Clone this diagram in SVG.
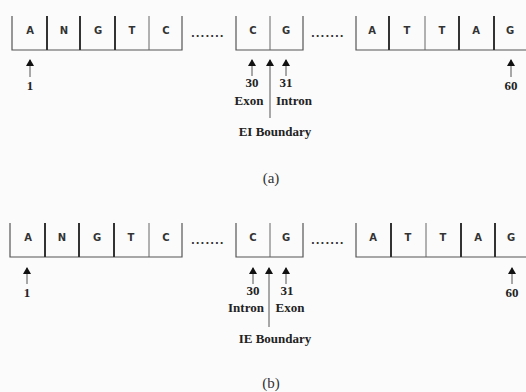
<svg xmlns="http://www.w3.org/2000/svg" width="526" height="392" viewBox="0 0 526 392">
<defs>
<style>
.bx{fill:none;stroke:#555;stroke-width:1.2}
.tk{stroke:#333;stroke-width:2}
.tn{stroke:#666;stroke-width:1}
.nt{font-family:"DejaVu Sans",Verdana,sans-serif;font-weight:bold;font-size:10px;fill:#333;text-anchor:middle}
.dt{font-family:"DejaVu Sans",Verdana,sans-serif;font-weight:bold;font-size:10px;fill:#333;letter-spacing:1px}
.lb{font-family:"Liberation Serif","Times New Roman",serif;font-weight:bold;font-size:13px;fill:#222;text-anchor:middle}
.cp{font-family:"Liberation Serif","Times New Roman",serif;font-size:15px;fill:#333;text-anchor:middle}
.ar{stroke:#555;stroke-width:1;fill:none}
</style>
<marker id="ah" viewBox="0 0 7 8" refX="6" refY="4" markerWidth="7" markerHeight="8" markerUnits="userSpaceOnUse" orient="auto">
<path d="M0,0 L7,4 L0,8 Z" fill="#111"/>
</marker>
</defs>
<rect width="526" height="392" fill="#fbfbfb"/>

<!-- (a) -->
<g id="a-box1">
<path class="bx" d="M12,16 V50 H182 V16"/>
<line class="tk" x1="47" y1="16" x2="47" y2="50"/>
<line class="tk" x1="80" y1="16" x2="80" y2="50"/>
<line class="tk" x1="115" y1="16" x2="115" y2="50"/>
<line class="tn" x1="149" y1="16" x2="149" y2="50"/>
<text class="nt" x="30" y="34">A</text>
<text class="nt" x="64" y="34">N</text>
<text class="nt" x="98" y="34">G</text>
<text class="nt" x="132" y="34">T</text>
<text class="nt" x="166" y="34">C</text>
</g>
<text class="dt" x="191" y="37">.......</text>
<g id="a-box2">
<path class="bx" d="M236,16 V50 H303 V16"/>
<line class="tn" x1="270" y1="16" x2="270" y2="50"/>
<text class="nt" x="253" y="34">C</text>
<text class="nt" x="286" y="34">G</text>
</g>
<text class="dt" x="311" y="37">.......</text>
<g id="a-box3">
<path class="bx" d="M356,16 V50 H526"/>
<line class="tk" x1="389" y1="16" x2="389" y2="50"/>
<line class="tn" x1="425" y1="16" x2="425" y2="50"/>
<line class="tk" x1="459" y1="16" x2="459" y2="50"/>
<line class="tk" x1="494" y1="16" x2="494" y2="50"/>
<text class="nt" x="372" y="34">A</text>
<text class="nt" x="407" y="34">T</text>
<text class="nt" x="442" y="34">T</text>
<text class="nt" x="476" y="34">A</text>
<text class="nt" x="510" y="34">G</text>
</g>
<g id="a-labels">
<text class="lb" x="30" y="90">1</text>
<text class="lb" x="252" y="87">30</text>
<text class="lb" x="286" y="87">31</text>
<text class="lb" x="511" y="90">60</text>
<text class="lb" x="249" y="105">Exon</text>
<text class="lb" x="294" y="105">Intron</text>
<text class="lb" x="275" y="136">EI Boundary</text>
<text class="cp" x="271" y="183">(a)</text>
</g>

<!-- (b) -->
<g id="b-box1">
<path class="bx" d="M10,223 V257 H182 V223"/>
<line class="tk" x1="45" y1="223" x2="45" y2="257"/>
<line class="tk" x1="79" y1="223" x2="79" y2="257"/>
<line class="tk" x1="114" y1="223" x2="114" y2="257"/>
<line class="tn" x1="149" y1="223" x2="149" y2="257"/>
<text class="nt" x="28" y="241">A</text>
<text class="nt" x="62" y="241">N</text>
<text class="nt" x="97" y="241">G</text>
<text class="nt" x="131" y="241">T</text>
<text class="nt" x="166" y="241">C</text>
</g>
<text class="dt" x="191" y="244">.......</text>
<g id="b-box2">
<path class="bx" d="M236,223 V257 H303 V223"/>
<line class="tn" x1="270" y1="223" x2="270" y2="257"/>
<text class="nt" x="253" y="241">C</text>
<text class="nt" x="286" y="241">G</text>
</g>
<text class="dt" x="311" y="244">.......</text>
<g id="b-box3">
<path class="bx" d="M356,223 V257 H526"/>
<line class="tk" x1="391" y1="223" x2="391" y2="257"/>
<line class="tn" x1="426" y1="223" x2="426" y2="257"/>
<line class="tk" x1="461" y1="223" x2="461" y2="257"/>
<line class="tk" x1="495" y1="223" x2="495" y2="257"/>
<text class="nt" x="373" y="241">A</text>
<text class="nt" x="408" y="241">T</text>
<text class="nt" x="443" y="241">T</text>
<text class="nt" x="478" y="241">A</text>
<text class="nt" x="511" y="241">G</text>
</g>
<g id="b-labels">
<text class="lb" x="27" y="297">1</text>
<text class="lb" x="253" y="295">30</text>
<text class="lb" x="287" y="295">31</text>
<text class="lb" x="512" y="297">60</text>
<text class="lb" x="246" y="312">Intron</text>
<text class="lb" x="290" y="312">Exon</text>
<text class="lb" x="275" y="343">IE Boundary</text>
<text class="cp" x="271" y="388">(b)</text>
</g>

<g id="connectors">
<line class="ar" x1="30" y1="77" x2="30" y2="60" marker-end="url(#ah)"/>
<line class="ar" x1="252" y1="76" x2="252" y2="60" marker-end="url(#ah)"/>
<line class="ar" x1="270" y1="118" x2="270" y2="60" marker-end="url(#ah)"/>
<line class="ar" x1="286" y1="76" x2="286" y2="60" marker-end="url(#ah)"/>
<line class="ar" x1="511" y1="77" x2="511" y2="60" marker-end="url(#ah)"/>
<line class="ar" x1="27" y1="284" x2="27" y2="268" marker-end="url(#ah)"/>
<line class="ar" x1="253" y1="284" x2="253" y2="268" marker-end="url(#ah)"/>
<line class="ar" x1="269" y1="327" x2="269" y2="268" marker-end="url(#ah)"/>
<line class="ar" x1="286" y1="284" x2="286" y2="268" marker-end="url(#ah)"/>
<line class="ar" x1="512" y1="284" x2="512" y2="268" marker-end="url(#ah)"/>
</g>
</svg>
